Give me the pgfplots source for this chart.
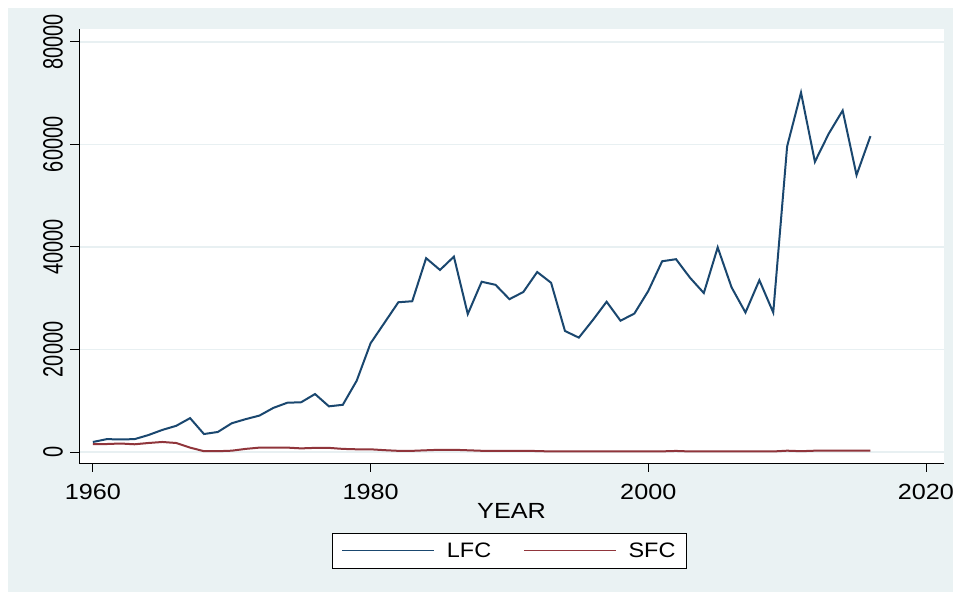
\documentclass[border=0pt]{standalone}
\usepackage{pgfplots}
\pgfplotsset{compat=1.18}
\usepackage{fontspec}
\setmainfont{Liberation Sans}
\definecolor{bgcol}{RGB}{234,242,243}
\definecolor{gridcol}{RGB}{232,240,242}
\definecolor{lfccol}{RGB}{26,71,111}
\definecolor{sfccol}{RGB}{144,53,59}
\begin{document}
\begin{tikzpicture}[x=1bp,y=1bp]
\useasboundingbox (0,0) rectangle (953,592);
\fill[bgcol] (8,0) rectangle (953,584);
\begin{axis}[
  at={(79bp,129bp)}, anchor=south west,
  scale only axis, width=865bp, height=434bp,
  xmin=1959, xmax=2021.3, ymin=-2150, ymax=82500,
  axis background/.style={fill=white},
  axis x line*=bottom, axis y line*=left,
  axis line style={black, line width=0.8bp, -},
  xtick={1960,1980,2000,2020},
  ytick={0,20000,40000,60000,80000},
  tick align=outside,
  major tick length=9bp,
  tick style={black, line width=0.8bp},
  ymajorgrids, major grid style={gridcol, line width=1.5bp},
  /pgf/number format/assume math mode=true,
  /pgf/number format/1000 sep={},
  scaled y ticks=false,
  xticklabel={\scalebox{1.15}[1]{\fontsize{22}{24}\selectfont\pgfmathprintnumber{\tick}}},
  yticklabel={\scalebox{1}[1.4]{\fontsize{20}{24}\selectfont\pgfmathprintnumber{\tick}}},
  yticklabel style={rotate=90, anchor=south, inner sep=7bp},
  xticklabel style={inner sep=3bp, yshift=-9bp},
  xlabel={\scalebox{1.15}[1]{YEAR}},
  xlabel style={font=\fontsize{22}{24}\selectfont, yshift=3bp},
  legend style={at={(0.4977,-0.2016)}, anchor=center, draw=black, fill=white,
    line width=0.8bp, font=\fontsize{21}{24}\selectfont, inner xsep=9bp, inner ysep=7.5bp},
  legend columns=2,
  /tikz/every odd column/.append style={column sep=10bp},
  /tikz/every even column/.append style={column sep=30bp},
  legend image code/.code={\draw[#1, line width=1.4bp] (0bp,0bp) -- (92bp,0bp);},
]
\addplot[lfccol, line width=2bp] coordinates {
(1960,1950) (1961,2500) (1962,2450) (1963,2500) (1964,3300) (1965,4300)
(1966,5100) (1967,6600) (1968,3500) (1969,3900) (1970,5600) (1971,6400)
(1972,7100) (1973,8600) (1974,9600) (1975,9700) (1976,11300) (1977,8900)
(1978,9200) (1979,13900) (1980,21200) (1981,25200) (1982,29200) (1983,29400)
(1984,37800) (1985,35500) (1986,38100) (1987,26900) (1988,33200) (1989,32600)
(1990,29800) (1991,31200) (1992,35100) (1993,33000) (1994,23600) (1995,22300)
(1996,25700) (1997,29300) (1998,25600) (1999,27000) (2000,31400) (2001,37200)
(2002,37600) (2003,34000) (2004,31000) (2005,39900) (2006,32100) (2007,27200)
(2008,33500) (2009,27200) (2010,59600) (2011,70100) (2012,56600) (2013,62100)
(2014,66600) (2015,54000) (2016,61600)
};
\addlegendentry{\scalebox{1.12}[1]{LFC}}
\addplot[sfccol, line width=2bp] coordinates {
(1960,1550) (1961,1550) (1962,1650) (1963,1500) (1964,1750) (1965,1950)
(1966,1750) (1967,850) (1968,150) (1969,150) (1970,250) (1971,600)
(1972,850) (1973,850) (1974,850) (1975,700) (1976,800) (1977,800)
(1978,600) (1979,520) (1980,520) (1981,350) (1982,220) (1983,220)
(1984,330) (1985,430) (1986,430) (1987,330) (1988,230) (1989,230)
(1990,230) (1991,230) (1992,180) (1993,100) (1994,100) (1995,100)
(1996,100) (1997,100) (1998,100) (1999,100) (2000,100) (2001,120)
(2002,200) (2003,100) (2004,100) (2005,100) (2006,100) (2007,100)
(2008,100) (2009,100) (2010,250) (2011,150) (2012,250) (2013,250)
(2014,250) (2015,250) (2016,250)
};
\addlegendentry{\scalebox{1.12}[1]{SFC}}
\end{axis}
\end{tikzpicture}
\end{document}
